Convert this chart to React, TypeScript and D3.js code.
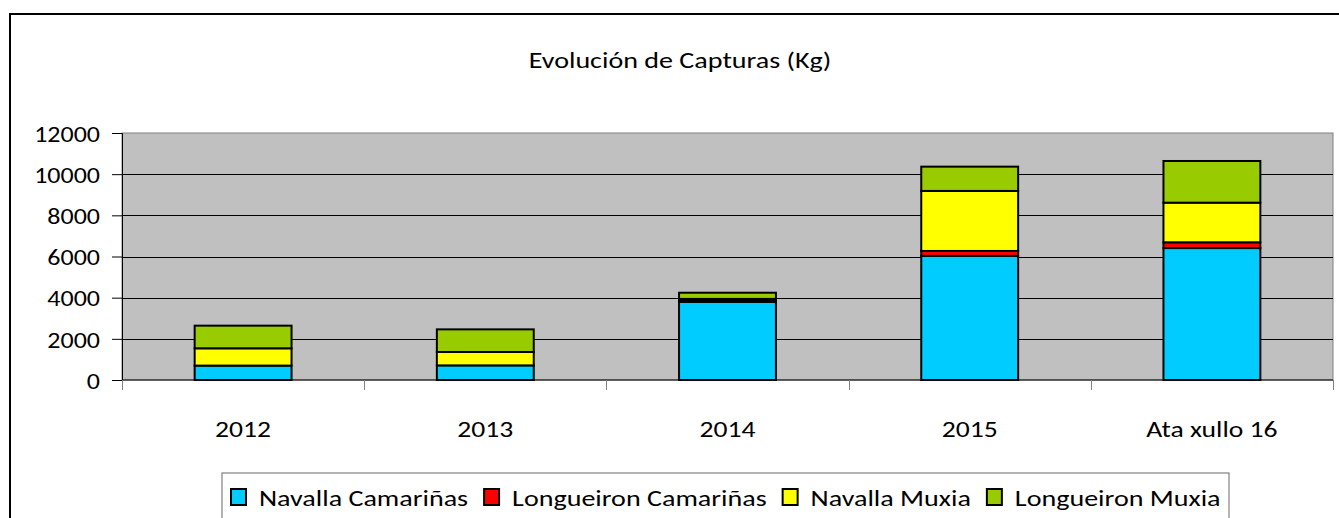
import React, { useEffect, useRef } from "react";
import * as d3 from "d3";

// values (Kg)
const years = ["2012", "2013", "2014", "2015", "Ata xullo 16"];
const navallaCamarinas = [700, 710, 3800, 6030, 6410];
const longueironCamarinas = [0, 0, 40, 240, 280];
const navallaMuxia = [840, 650, 100, 2915, 1925];
const longueironMuxia = [1100, 1100, 300, 1180, 2025];
const seriesNames = ["Navalla Camariñas", "Longueiron Camariñas", "Navalla Muxia", "Longueiron Muxia"];
const seriesColors = ["#00ccff", "#ff0000", "#ffff00", "#99cc00"];
const yTicks = [0, 2000, 4000, 6000, 8000, 10000, 12000];

const W = 1339, H = 518;
const FONT = "Carlito, Lato, 'Open Sans', sans-serif";

// the original text is a bit wider than Lato, so stretch it horizontally
const stretch = (sel: any, k: number) => {
    sel.each(function (this: SVGTextElement) {
        const len = this.getComputedTextLength();
        d3.select(this).attr("textLength", len * k).attr("lengthAdjust", "spacingAndGlyphs");
    });
};

const App = () => {
    const ref = useRef<SVGSVGElement>(null);

    useEffect(() => {
        const svg = d3.select(ref.current);
        svg.selectAll("*").remove();

        const left = 122, right = 1333, top = 133, bottom = 380;

        const rows = years.map((y, i) => ({
            year: y,
            s0: navallaCamarinas[i],
            s1: longueironCamarinas[i],
            s2: navallaMuxia[i],
            s3: longueironMuxia[i],
        }));
        const keys = ["s0", "s1", "s2", "s3"];
        const stacked = d3.stack<any>().keys(keys)(rows);

        const x = d3.scaleBand().domain(years).range([left, right]).padding(0);
        const y = d3.scaleLinear().domain([0, 12000]).range([bottom, top]);
        const barW = x.bandwidth() * 0.4;

        // outer frame
        svg.append("rect")
            .attr("x", 10).attr("y", 14)
            .attr("width", W + 20).attr("height", H + 20)
            .attr("fill", "#fff").attr("stroke", "#000").attr("stroke-width", 2);

        // title
        const title = svg.append("text")
            .attr("x", 680).attr("y", 68)
            .attr("text-anchor", "middle")
            .attr("font-family", FONT).attr("font-size", 23)
            .text("Evolución de Capturas (Kg)");
        stretch(title, 1.22);

        // plot area
        svg.append("rect")
            .attr("x", left).attr("y", top)
            .attr("width", right - left).attr("height", bottom - top)
            .attr("fill", "#c0c0c0").attr("stroke", "#808080").attr("stroke-width", 1);

        // gridlines
        svg.append("g")
            .selectAll("line")
            .data(yTicks.filter(d => d > 0 && d < 12000))
            .enter()
            .append("line")
            .attr("x1", left).attr("x2", right)
            .attr("y1", d => Math.round(y(d)) + 0.5).attr("y2", d => Math.round(y(d)) + 0.5)
            .attr("stroke", "#000").attr("stroke-width", 1);

        // y axis
        const yAxis = d3.axisLeft(y).tickValues(yTicks).tickSize(10).tickPadding(12).tickFormat(d3.format("d"));
        const gy = svg.append("g").attr("transform", "translate(" + left + ",0)").call(yAxis);
        gy.select(".domain").attr("stroke", "#000");
        gy.selectAll(".tick line").attr("stroke", "#000");
        const yLabels = gy.selectAll(".tick text")
            .attr("font-family", FONT).attr("font-size", 23).attr("fill", "#000").attr("dy", "0.36em");
        stretch(yLabels, 1.13);

        // x axis: ticks between categories
        svg.append("line")
            .attr("x1", left).attr("x2", right).attr("y1", bottom).attr("y2", bottom)
            .attr("stroke", "#000");
        const bounds = years.map(d => x(d) as number).concat([right]);
        svg.append("g")
            .selectAll("line")
            .data(bounds)
            .enter()
            .append("line")
            .attr("x1", d => Math.round(d) + 0.5).attr("x2", d => Math.round(d) + 0.5)
            .attr("y1", bottom).attr("y2", bottom + 10)
            .attr("stroke", "#808080");
        const xLabels = svg.append("g")
            .selectAll("text")
            .data(years)
            .enter()
            .append("text")
            .attr("x", d => (x(d) as number) + x.bandwidth() / 2)
            .attr("y", 437)
            .attr("text-anchor", "middle")
            .attr("font-family", FONT).attr("font-size", 23)
            .text(d => d);
        stretch(xLabels, 1.2);

        // bars
        svg.append("g")
            .selectAll("g")
            .data(stacked)
            .enter()
            .append("g")
            .attr("fill", (d, i) => seriesColors[i])
            .selectAll("rect")
            .data(d => d)
            .enter()
            .filter(d => d[1] - d[0] > 0)
            .append("rect")
            .attr("x", d => (x(d.data.year) as number) + (x.bandwidth() - barW) / 2)
            .attr("y", d => y(d[1]))
            .attr("width", barW)
            .attr("height", d => y(d[0]) - y(d[1]))
            .attr("stroke", "#000").attr("stroke-width", 2);

        // legend
        const lg = svg.append("g");
        lg.append("rect")
            .attr("x", 222).attr("y", 473)
            .attr("width", 1007).attr("height", 80)
            .attr("fill", "#fff").attr("stroke", "#808080").attr("stroke-width", 1.2);
        let cx = 231;
        seriesNames.forEach((name, i) => {
            lg.append("rect")
                .attr("x", cx).attr("y", 489)
                .attr("width", 15).attr("height", 16)
                .attr("fill", seriesColors[i]).attr("stroke", "#000").attr("stroke-width", 2);
            const t = lg.append("text")
                .attr("x", cx + 28).attr("y", 506)
                .attr("font-family", FONT).attr("font-size", 23)
                .text(name);
            const len = (t.node() as SVGTextElement).getComputedTextLength() * 1.22;
            t.attr("textLength", len).attr("lengthAdjust", "spacingAndGlyphs");
            cx = cx + 28 + len + 16;
        });
    }, []);

    return (
        <svg ref={ref} width={W} height={H} style={{ position: "absolute", left: 0, top: 0 }} />
    );
};

export default App;
